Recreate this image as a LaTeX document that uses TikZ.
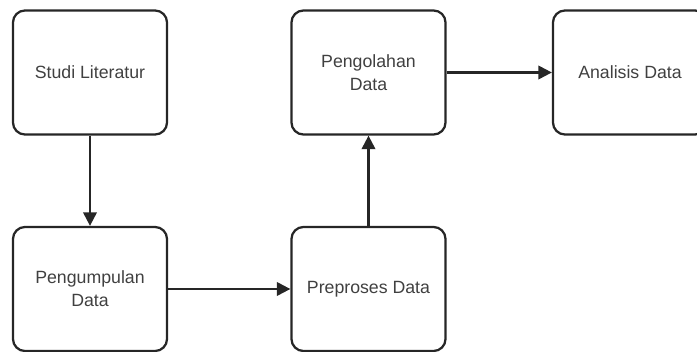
\documentclass[tikz,border=0pt]{standalone}
\usepackage{fontspec}
\setmainfont{Liberation Sans}
\usetikzlibrary{arrows.meta,positioning}
\definecolor{boxline}{HTML}{262626}
\definecolor{boxtext}{HTML}{404040}

\begin{document}
\begin{tikzpicture}[x=0.025cm,y=-0.025cm,
    step box/.style={draw=boxline, line width=1.6pt, rounded corners=0.3cm,
      minimum width=3.85cm, minimum height=3.1cm, align=center, text=boxtext,
      font=\fontsize{12.6}{16.5}\selectfont},
    flow/.style={-{Triangle[length=0.34cm,width=0.34cm]}, draw=boxline, line width=1.6pt}]
  \useasboundingbox (0,0) rectangle (697,352);
  % boxes
  \node[step box] (studi) at (90,72.5) {Studi Literatur};
  \node[step box] (kumpul) at (90,289) {Pengumpulan\\Data};
  \node[step box] (prepro) at (368.5,289) {Preproses Data};
  \node[step box] (olah) at (368.5,72.5) {Pengolahan\\Data};
  \node[step box] (analisis) at (630,72.5) {Analisis Data};
  % arrows
  \draw[flow] (studi) -- (kumpul);
  \draw[flow] (kumpul) -- (prepro);
  \draw[flow] (prepro) -- (olah);
  \draw[flow] (olah) -- (analisis);
\end{tikzpicture}
\end{document}
